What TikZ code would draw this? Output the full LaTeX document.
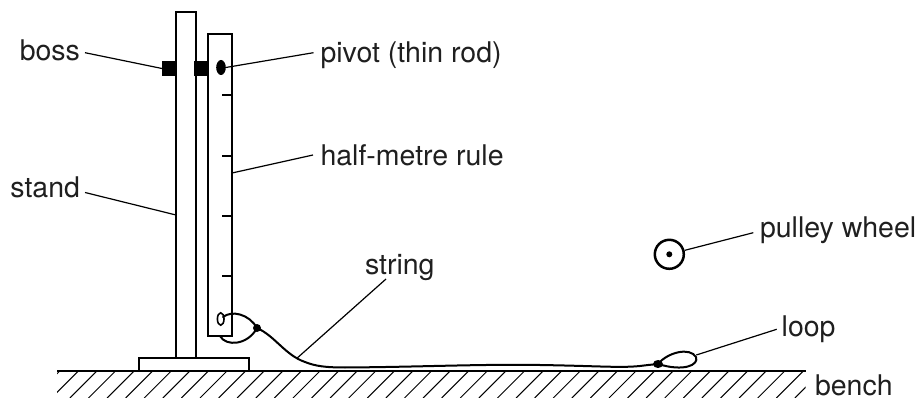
\documentclass[tikz,border=0pt]{standalone}
\usepackage{fontspec}
\setmainfont{TeX Gyre Heros}
\usetikzlibrary{shapes.geometric,calc}
\begin{document}
\begin{tikzpicture}[x=1pt,y=-1pt,
  part/.style={draw=black,line width=2.5pt,fill=white,inner sep=0pt,outer sep=0pt,rectangle},
  blk/.style={fill=black,draw=none,inner sep=0pt,outer sep=0pt},
  leader/.style={line width=1.2pt},
  lbl/.style={inner sep=0pt,outer sep=0pt,font=\fontsize{28.5}{34}\selectfont,text=black!88},
  strg/.style={line width=2pt,line cap=round,line join=round},
  hatch/.style={line width=1pt}]
\useasboundingbox (0,0) rectangle (922,401);

% bench and hatching
\begin{scope}
  \clip (57,371) rectangle (805.7,397);
  \foreach \i in {-2,...,41}
    \draw[hatch] ({78.3+18.59*\i},371) -- ++(-27,27);
\end{scope}
\draw[line width=2.7pt] (57,371) -- (805.7,371);

% apparatus
\node[part,minimum width=110pt,minimum height=13pt] (base) at (194,364.5) {};
\node[part,minimum width=20pt,minimum height=346pt] (stand) at (186,185) {};
\node[part,minimum width=24pt,minimum height=302pt] (rule) at (220,185) {};
\foreach \y in {95,156,216,276}
  \draw[line width=2.5pt] (232,\y) -- (222,\y);
\node[blk,rectangle,minimum width=15pt,minimum height=15pt] (bossL) at (169.5,68.5) {};
\node[blk,rectangle,minimum width=15pt,minimum height=15pt] (bossR) at (201.5,68.5) {};
\node[blk,ellipse,minimum width=9.6pt,minimum height=15pt] (pivot) at (221,67.5) {};
\node[ellipse,draw,line width=1.6pt,inner sep=0pt,minimum width=6.6pt,minimum height=12.4pt] (hole) at (220.7,319) {};

% string
\draw[strg] (223,317) .. controls (232,310) and (249,314) .. (257,328);
\draw[strg] (220,336) .. controls (226,347) and (248,345) .. (257,328);
\draw[strg] (257,328) .. controls (275,336) and (285,355) .. (305,362)
  .. controls (315,366) and (325,367.5) .. (345,367.5)
  .. controls (420,367) and (480,364) .. (540,365)
  .. controls (600,366) and (620,368) .. (640,366)
  .. controls (648,365) .. (658,364);
\draw[strg] (658,364) .. controls (668,352) and (690,347) .. (696,357)
  .. controls (699,365) and (684,372) .. (658,364);
\node[blk,circle,minimum size=8pt] (knotA) at (257,328) {};
\node[blk,ellipse,minimum width=10pt,minimum height=8pt] (knotB) at (658,364) {};
\coordinate (strpt) at (297,358.2);
\coordinate (looppt) at (696.3,355);

% pulley wheel
\node[circle,draw,line width=2.5pt,inner sep=0pt,minimum size=29pt] (pulley) at (669.3,254.3) {};
\node[blk,circle,minimum size=6pt] (axle) at (pulley.center) {};

% labels
\node[lbl,anchor=base east] (lboss) at (80,60.7) {boss};
\node[lbl,anchor=base east] (lstand) at (80,197) {stand};
\node[lbl,anchor=base west] (lpivot) at (320.5,63) {pivot (thin rod)};
\node[lbl,anchor=base west] (lhalf) at (320.5,166) {half-metre rule};
\node[lbl,anchor=base west] (lstring) at (365,274) {string};
\node[lbl,anchor=base west] (lpulley) at (760,237.3) {pulley wheel};
\node[lbl,anchor=base west] (lloop) at (781.7,336.7) {loop};
\node[lbl,anchor=base west] (lbench) at (815,395) {bench};

% leaders
\draw[leader] ([xshift=5pt,yshift=8pt]lboss.base east) -- (bossL.west);
\draw[leader] ([xshift=5pt,yshift=4.5pt]lstand.base east) -- ([yshift=-30pt]stand.west);
\draw[leader] ([xshift=-7pt,yshift=10.3pt]lpivot.base west) -- (pivot.east);
\draw[leader] ([xshift=-7.5pt,yshift=11pt]lhalf.base west) -- ([yshift=12pt]rule.east);
\draw[leader] ([xshift=21pt,yshift=-5pt]lstring.base west) -- (strpt);
\draw[leader] ([xshift=-6.7pt,yshift=4.6pt]lpulley.base west) -- (pulley);
\draw[leader] ([xshift=-5pt,yshift=7.4pt]lloop.base west) -- (looppt);
\end{tikzpicture}
\end{document}
